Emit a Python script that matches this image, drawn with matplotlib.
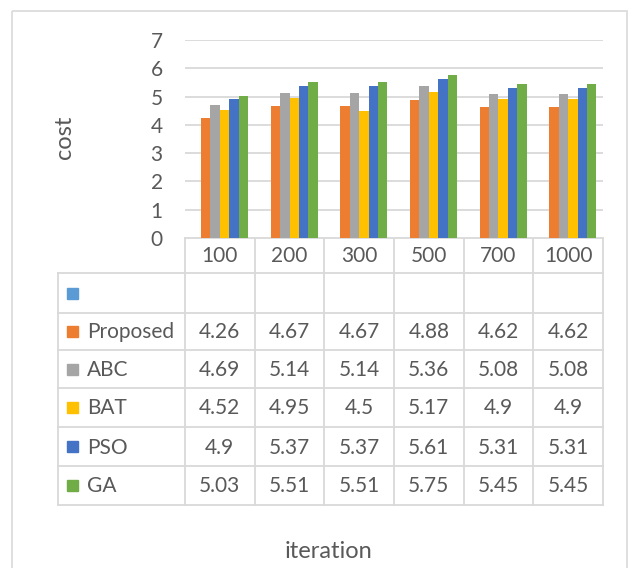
import numpy as np
import matplotlib.pyplot as plt
from matplotlib.patches import Rectangle

plt.rcParams['font.family'] = ['Lato', 'DejaVu Sans']

iterations = ['100', '200', '300', '500', '700', '1000']
series = ['', 'Proposed', 'ABC', 'BAT', 'PSO', 'GA']
colors = ['#5B9BD5', '#ED7D31', '#A5A5A5', '#FFC000', '#4472C4', '#70AD47']
values = [
    [None] * 6,
    [4.26, 4.67, 4.67, 4.88, 4.62, 4.62],
    [4.69, 5.14, 5.14, 5.36, 5.08, 5.08],
    [4.52, 4.95, 4.5, 5.17, 4.9, 4.9],
    [4.9, 5.37, 5.37, 5.61, 5.31, 5.31],
    [5.03, 5.51, 5.51, 5.75, 5.45, 5.45],
]

W, H = 634, 568
txt = '#595959'
line = '#D9D9D9'
fs = 15

fig = plt.figure(figsize=(W / 100, H / 100), dpi=100)

# plot area in pixel coords
x0, x1, ytop, ybot = 185, 603, 40, 238
ax = fig.add_axes([x0 / W, 1 - ybot / H, (x1 - x0) / W, (ybot - ytop) / H])
n = len(series)
bw = 0.134
x = np.arange(len(iterations))
for i, (name, vals, c) in enumerate(zip(series, values, colors)):
    off = (i - (n - 1) / 2) * bw
    v = [np.nan if val is None else val for val in vals]
    ax.bar(x + off, v, width=bw, color=c, zorder=3)
ax.set_xlim(-0.5, len(iterations) - 0.5)
ax.set_ylim(0, 7)
ax.set_yticks(range(8))
ax.set_xticks([])
ax.tick_params(axis='y', length=0, labelsize=fs, labelcolor=txt, pad=16)
ax.grid(axis='y', color=line, linewidth=1.3, zorder=0)
for s in ax.spines.values():
    s.set_visible(False)

# overlay for table, border and axis titles
ov = fig.add_axes([0, 0, 1, 1], zorder=-1)
ov.set_xlim(0, W)
ov.set_ylim(H, 0)
ov.axis('off')
ov.add_patch(Rectangle((12, 11), 615, 570, fill=False, edgecolor=line, lw=1.2,
                       clip_on=False))

cols = np.linspace(x0, x1, len(iterations) + 1)
rows = [238, 273, 313, 350, 388, 427, 466, 505]
lx = 58
kw = dict(color=line, lw=1.3)
ov.plot([x0, x1], [rows[0], rows[0]], **kw)
for r in rows[1:]:
    ov.plot([lx, x1], [r, r], **kw)
for c in cols:
    ov.plot([c, c], [rows[0], rows[-1]], **kw)
ov.plot([lx, lx], [rows[1], rows[-1]], **kw)

for j, it in enumerate(iterations):
    ov.text((cols[j] + cols[j + 1]) / 2, (rows[0] + rows[1]) / 2 + 1, it,
            ha='center', va='center', fontsize=fs, color=txt)

for i, (name, vals, c) in enumerate(zip(series, values, colors)):
    ym = (rows[i + 1] + rows[i + 2]) / 2
    ov.add_patch(Rectangle((67, ym - 5.5), 11, 11, color=c))
    ov.text(87, ym + 1, name, ha='left', va='center', fontsize=fs, color=txt)
    for j, val in enumerate(vals):
        if val is None:
            continue
        ov.text((cols[j] + cols[j + 1]) / 2, ym + 1, f'{val:g}',
                ha='center', va='center', fontsize=fs, color=txt)

ov.text(65, 137, 'cost', rotation=90, ha='center', va='center',
        fontsize=17, color=txt)
ov.text(328, 551, 'iteration', ha='center', va='center', fontsize=17, color=txt)

fig.savefig('out.png', dpi=100)
